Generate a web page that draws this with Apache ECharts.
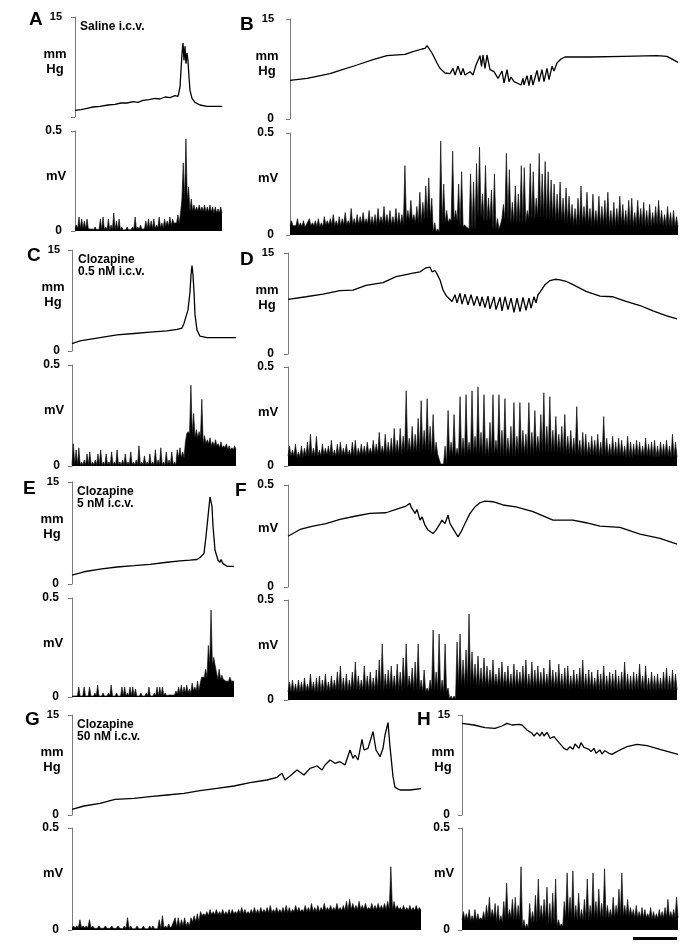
<!DOCTYPE html>
<html>
<head>
<meta charset="utf-8">
<script src="https://cdn.jsdelivr.net/npm/echarts@6/dist/echarts.min.js"></script>
<style>html,body{margin:0;padding:0;background:#fff;}#c{width:685px;height:950px;}</style>
</head>
<body>
<div id="c"></div>
<script>
// ---------- DATA (time in s, pressure in mmHg, EMG in mV) ----------
const pressA = [[0,1.0],[6,1.1],[12,1.3],[18,1.5],[25,1.6],[33,1.8],[40,1.9],[46,2.1],[52,2.1],[58,2.3],[63,2.2],[68,2.5],[74,2.6],[80,2.8],[85,2.7],[90,3.0],[95,2.9],[100,3.2],[103,3.1],[105,4.5],[106,7.0],[107,9.5],[108,11.1],[109,8.5],[110,10.6],[111,8.0],[112,9.6],[113,8.4],[114,6.0],[115,4.0],[117,2.8],[120,2.2],[125,1.8],[132,1.6],[147,1.6]];
const pressB = [[0,5.8],[17,6.1],[40,6.8],[50,7.3],[67,8.1],[83,8.9],[97,9.5],[115,9.7],[123,10.1],[132,10.5],[135,10.6],[137,11.0],[139,10.8],[142,9.9],[147,8.4],[150,7.6],[155,6.9],[160,6.8],[163,7.6],[165,6.6],[168,7.9],[171,6.6],[173,7.6],[175,6.6],[180,7.1],[183,6.6],[186,8.1],[188,7.9],[190,9.5],[191.5,7.9],[193,9.6],[195,7.6],[197,9.6],[200,7.4],[204,7.1],[208,6.1],[212,7.2],[214,5.4],[217,7.4],[219,5.6],[221,6.3],[224,5.6],[227,5.4],[231,5.1],[233,6.1],[234,5.1],[237,6.5],[239,5.0],[241,6.6],[243,5.1],[247,7.3],[249,5.6],[252,7.4],[254,5.6],[257,7.6],[259,5.9],[262,7.9],[264,7.2],[267,8.4],[271,9.0],[275,9.3],[300,9.3],[333,9.4],[367,9.5],[377,9.4],[383,8.9],[388,8.5]];
const pressC = [[0,1.1],[8,1.5],[28,2.0],[45,2.4],[62,2.6],[78,2.8],[95,3.0],[105,3.2],[110,3.4],[112,4.1],[114,4.3],[116,6.1],[118,8.8],[119,11.3],[120,12.7],[121,11.3],[122,8.8],[123,5.4],[125,3.1],[128,2.2],[135,2.0],[164,2.0]];
const pressD = [[0,8.1],[18,8.5],[35,8.9],[52,9.4],[65,9.5],[78,10.2],[95,10.6],[108,11.5],[118,11.8],[125,12.0],[132,12.2],[135,12.5],[138,12.8],[142,12.9],[144,12.2],[147,12.4],[149,11.9],[152,11.0],[155,9.5],[158,8.7],[162,8.1],[164,7.8],[167,8.8],[169,7.6],[172,9.0],[174,7.4],[177,8.9],[180,7.3],[183,8.8],[186,7.2],[189,8.6],[192,7.1],[194,8.5],[197,6.9],[200,8.6],[202,6.7],[206,8.5],[208,6.6],[212,8.4],[214,6.4],[217,8.5],[220,6.6],[223,8.3],[226,6.2],[229,8.3],[232,6.3],[235,8.4],[238,6.5],[241,8.3],[243,6.8],[246,8.5],[248,7.6],[250,8.8],[252,9.2],[257,10.3],[262,10.9],[267,11.1],[272,11.0],[278,10.8],[285,10.3],[298,9.3],[312,8.6],[325,8.5],[338,7.8],[352,7.2],[365,6.4],[378,5.7],[389,5.2]];
const pressE = [[0,1.3],[12,1.8],[28,2.2],[45,2.5],[62,2.7],[78,2.9],[95,3.2],[108,3.4],[118,3.5],[125,3.6],[128,3.9],[132,4.5],[134,7.0],[136,9.9],[138,12.8],[140,11.4],[141,8.5],[143,5.0],[146,3.5],[148,3.2],[149,3.6],[151,3.0],[155,2.6],[162,2.6]];
const pressF = [[0,0.249],[12,0.282],[25,0.298],[38,0.311],[52,0.331],[68,0.348],[82,0.361],[98,0.364],[108,0.380],[118,0.397],[122,0.410],[123,0.393],[127,0.361],[129,0.380],[132,0.328],[134,0.344],[137,0.303],[140,0.279],[145,0.262],[148,0.279],[152,0.311],[154,0.328],[157,0.311],[160,0.352],[162,0.311],[167,0.270],[170,0.246],[173,0.270],[177,0.311],[182,0.361],[187,0.393],[192,0.413],[197,0.421],[205,0.418],[215,0.402],[228,0.393],[245,0.369],[265,0.328],[285,0.328],[298,0.315],[312,0.298],[332,0.292],[352,0.259],[372,0.238],[389,0.210]];
const pressG = [[0,0.85],[12,1.35],[28,1.75],[43,2.35],[45,2.25],[62,2.5],[78,2.75],[95,3.0],[112,3.25],[128,3.65],[145,4.0],[162,4.35],[178,4.85],[195,5.25],[205,5.65],[210,6.25],[213,5.25],[218,5.85],[225,6.75],[232,6.0],[238,7.0],[245,7.35],[250,6.75],[253,7.5],[258,8.25],[263,7.75],[268,8.0],[273,7.5],[278,9.75],[281,8.5],[283,9.0],[286,8.25],[290,11.35],[292,9.75],[296,10.0],[301,12.5],[304,9.75],[308,8.75],[311,10.0],[313,12.0],[316,13.85],[318,10.25],[321,5.75],[323,4.15],[328,3.75],[338,3.75],[349,3.95]];
const pressH = [[0,13.75],[12,13.5],[23,13.1],[33,13.0],[40,13.35],[45,13.75],[50,13.5],[57,13.6],[60,13.5],[65,12.75],[70,12.25],[72,11.85],[75,12.35],[78,11.85],[80,12.45],[82,11.85],[85,12.4],[88,11.5],[92,11.75],[97,10.85],[102,10.0],[105,9.75],[108,10.25],[111,9.85],[113,10.65],[117,10.0],[119,10.85],[122,10.15],[127,9.85],[129,9.5],[132,10.0],[134,9.25],[138,9.75],[140,9.15],[143,9.65],[147,9.25],[150,9.1],[153,9.35],[158,9.75],[165,10.25],[175,10.6],[185,10.4],[198,9.85],[216,9.1]];

// EMG: background activity level per equal time segment, and spike peaks at equal spacing
const emgBaseA = [0.012,0.01,0.008,0.006,0.005,0.005,0.006,0.008,0.01,0.012,0.015,0.025,0.04,0.16,0.10,0.10,0.095,0.09];
const emgSpikeA = [0.03,0.07,0.06,0.05,0.06,0.02,0.01,0.02,0.01,0.06,0.07,0.02,0.06,0.03,0.09,0.05,0.06,0.02,0.01,0.02,0.01,0.02,0.07,0.02,0.03,0.02,0.05,0.06,0.05,0.06,0.03,0.07,0.04,0.06,0.05,0.07,0.06,0.05,0.08,0.09,0.34,0.46,0.22,0.16,0.13,0.12,0.13,0.12,0.13,0.12,0.13,0.12,0.12,0.11,0.12];
const emgBaseB = [0.045,0.04,0.045,0.04,0.05,0.045,0.05,0.05,0.055,0.05,0.055,0.05,0.05,0.07,0.06,0.08,0.015,0.06,0.07,0.04,0.03,0.09,0.07,0.03,0.08,0.06,0.06,0.08,0.09,0.08,0.07,0.06,0.05,0.055,0.05,0.05,0.045,0.05,0.045,0.05,0.045,0.05,0.045,0.04];
const emgSpikeB = [0.07,0.05,0.08,0.06,0.07,0.05,0.08,0.06,0.07,0.08,0.06,0.09,0.07,0.08,0.10,0.07,0.09,0.08,0.11,0.07,0.13,0.08,0.10,0.09,0.11,0.08,0.12,0.09,0.10,0.13,0.09,0.14,0.10,0.12,0.09,0.13,0.11,0.10,0.34,0.12,0.17,0.10,0.14,0.21,0.16,0.24,0.28,0.18,0.06,0.03,0.46,0.25,0.12,0.08,0.41,0.12,0.25,0.31,0.05,0.02,0.30,0.26,0.35,0.43,0.20,0.34,0.18,0.22,0.30,0.08,0.05,0.15,0.40,0.32,0.16,0.24,0.20,0.34,0.33,0.12,0.35,0.31,0.18,0.40,0.30,0.36,0.31,0.27,0.25,0.20,0.26,0.18,0.23,0.19,0.15,0.13,0.18,0.24,0.14,0.21,0.13,0.20,0.12,0.19,0.14,0.17,0.21,0.12,0.16,0.13,0.19,0.15,0.12,0.17,0.18,0.11,0.17,0.13,0.16,0.12,0.15,0.11,0.14,0.17,0.12,0.10,0.14,0.11,0.12,0.09];
const emgBaseC = [0.005,0.005,0.005,0.005,0.005,0.005,0.005,0.005,0.005,0.005,0.005,0.005,0.005,0.04,0.16,0.14,0.11,0.10,0.09,0.08];
const emgSpikeC = [0.11,0.08,0.09,0.02,0.03,0.06,0.07,0.02,0.03,0.06,0.08,0.02,0.06,0.02,0.07,0.02,0.08,0.02,0.03,0.06,0.02,0.07,0.02,0.03,0.10,0.02,0.05,0.02,0.06,0.02,0.08,0.03,0.09,0.02,0.07,0.03,0.07,0.02,0.08,0.09,0.07,0.12,0.17,0.40,0.26,0.18,0.17,0.33,0.15,0.13,0.14,0.12,0.13,0.11,0.12,0.10,0.11,0.10,0.09,0.10];
const emgBaseD = [0.05,0.045,0.05,0.05,0.055,0.05,0.055,0.05,0.055,0.06,0.06,0.055,0.06,0.07,0.07,0.08,0.06,0.01,0.05,0.05,0.06,0.06,0.05,0.06,0.05,0.05,0.06,0.06,0.07,0.07,0.07,0.06,0.06,0.05,0.055,0.05,0.05,0.05,0.045,0.05,0.05,0.045,0.05,0.045];
const emgSpikeD = [0.10,0.08,0.11,0.07,0.10,0.09,0.12,0.16,0.09,0.15,0.08,0.11,0.09,0.10,0.13,0.08,0.11,0.12,0.09,0.11,0.08,0.12,0.13,0.09,0.11,0.10,0.12,0.09,0.13,0.11,0.17,0.10,0.16,0.12,0.14,0.19,0.13,0.19,0.15,0.38,0.14,0.20,0.16,0.24,0.33,0.18,0.34,0.20,0.26,0.12,0.03,0.02,0.10,0.28,0.12,0.26,0.09,0.35,0.14,0.36,0.12,0.38,0.15,0.40,0.17,0.36,0.14,0.22,0.36,0.13,0.36,0.18,0.34,0.14,0.20,0.32,0.15,0.32,0.18,0.16,0.32,0.17,0.28,0.15,0.26,0.37,0.20,0.35,0.18,0.25,0.16,0.20,0.26,0.15,0.18,0.14,0.30,0.13,0.17,0.16,0.12,0.15,0.13,0.16,0.12,0.25,0.14,0.11,0.15,0.12,0.14,0.13,0.10,0.15,0.12,0.11,0.13,0.12,0.10,0.14,0.11,0.12,0.13,0.10,0.12,0.11,0.13,0.10,0.16,0.12];
const emgBaseE = [0.005,0.005,0.005,0.005,0.005,0.005,0.005,0.005,0.005,0.005,0.005,0.008,0.01,0.015,0.02,0.03,0.10,0.16,0.09,0.08];
const emgSpikeE = [0.01,0.01,0.05,0.01,0.05,0.01,0.05,0.01,0.02,0.06,0.01,0.02,0.01,0.02,0.06,0.01,0.02,0.01,0.05,0.05,0.02,0.05,0.05,0.04,0.01,0.02,0.01,0.02,0.05,0.01,0.02,0.05,0.05,0.05,0.02,0.01,0.02,0.01,0.03,0.05,0.06,0.05,0.06,0.04,0.07,0.05,0.08,0.07,0.10,0.14,0.26,0.44,0.20,0.13,0.14,0.11,0.10,0.09,0.10,0.09];
const emgBaseF = [0.04,0.04,0.045,0.04,0.045,0.05,0.045,0.05,0.05,0.05,0.05,0.055,0.05,0.06,0.05,0.04,0.05,0.04,0.005,0.07,0.08,0.07,0.065,0.07,0.065,0.06,0.065,0.06,0.06,0.065,0.06,0.055,0.06,0.055,0.055,0.05,0.055,0.05,0.05,0.055,0.05,0.05,0.05,0.05];
const emgSpikeF = [0.09,0.10,0.08,0.10,0.09,0.11,0.08,0.13,0.09,0.11,0.12,0.10,0.13,0.09,0.12,0.10,0.14,0.17,0.11,0.13,0.10,0.14,0.19,0.12,0.10,0.17,0.12,0.14,0.11,0.15,0.20,0.28,0.13,0.15,0.17,0.12,0.18,0.14,0.21,0.28,0.12,0.16,0.19,0.28,0.10,0.15,0.06,0.10,0.35,0.14,0.33,0.10,0.28,0.06,0.02,0.02,0.29,0.33,0.20,0.25,0.43,0.24,0.18,0.22,0.16,0.21,0.17,0.15,0.20,0.13,0.16,0.19,0.14,0.17,0.13,0.18,0.15,0.14,0.17,0.20,0.13,0.19,0.15,0.17,0.14,0.16,0.13,0.20,0.15,0.14,0.18,0.13,0.16,0.17,0.12,0.15,0.13,0.16,0.20,0.13,0.15,0.14,0.11,0.15,0.13,0.17,0.12,0.14,0.13,0.15,0.12,0.14,0.19,0.13,0.12,0.14,0.13,0.18,0.12,0.17,0.11,0.14,0.12,0.13,0.11,0.14,0.16,0.12,0.15,0.13];
const emgBaseG = [0.01,0.01,0.008,0.008,0.008,0.006,0.006,0.006,0.006,0.01,0.015,0.02,0.04,0.07,0.075,0.075,0.08,0.08,0.08,0.085,0.085,0.085,0.09,0.09,0.09,0.095,0.095,0.095,0.10,0.10,0.10,0.10,0.10,0.095,0.095];
const emgSpikeG = [0.02,0.02,0.05,0.02,0.02,0.05,0.02,0.01,0.02,0.01,0.02,0.01,0.02,0.01,0.02,0.01,0.02,0.06,0.02,0.01,0.02,0.01,0.02,0.01,0.02,0.02,0.01,0.05,0.07,0.02,0.03,0.02,0.06,0.06,0.05,0.06,0.04,0.06,0.07,0.08,0.09,0.08,0.09,0.10,0.09,0.10,0.09,0.10,0.09,0.10,0.10,0.09,0.10,0.11,0.10,0.09,0.10,0.11,0.10,0.11,0.10,0.11,0.12,0.10,0.11,0.10,0.11,0.12,0.11,0.10,0.12,0.11,0.10,0.12,0.11,0.13,0.11,0.12,0.11,0.13,0.11,0.12,0.11,0.13,0.11,0.12,0.14,0.15,0.13,0.12,0.14,0.12,0.13,0.11,0.13,0.12,0.13,0.12,0.13,0.14,0.31,0.14,0.12,0.11,0.12,0.11,0.12,0.11,0.12,0.11];
const emgBaseH = [0.05,0.045,0.05,0.06,0.04,0.06,0.05,0.01,0.04,0.05,0.03,0.02,0.06,0.05,0.05,0.06,0.06,0.06,0.07,0.07,0.06,0.06,0.055,0.06,0.06];
const emgSpikeH = [0.09,0.08,0.10,0.07,0.10,0.08,0.06,0.09,0.12,0.16,0.10,0.13,0.12,0.07,0.14,0.23,0.10,0.15,0.16,0.12,0.31,0.05,0.03,0.13,0.09,0.17,0.25,0.12,0.15,0.21,0.13,0.18,0.25,0.05,0.03,0.14,0.28,0.16,0.29,0.12,0.18,0.10,0.15,0.25,0.12,0.28,0.14,0.20,0.13,0.30,0.12,0.10,0.16,0.12,0.20,0.28,0.12,0.15,0.11,0.10,0.12,0.09,0.11,0.10,0.08,0.11,0.09,0.08,0.10,0.09,0.11,0.15,0.09,0.10,0.16];

const conditions = { A: ['Saline i.c.v.'], C: ['Clozapine', '0.5 nM i.c.v.'], E: ['Clozapine', '5 nM i.c.v.'], G: ['Clozapine', '50 nM i.c.v.'] };

// ---------- LAYOUT ----------
const panels = [
  {id:'A', left:70,  pTop:17,  pBot:117, eTop:131, eBot:231, off:5, press:pressA, base:emgBaseA, spk:emgSpikeA, pMax:15, pUnit:['mm','Hg'], zero:false, lx:29,  ly:20},
  {id:'B', left:282, pTop:19,  pBot:119, eTop:133, eBot:235, off:8, press:pressB, base:emgBaseB, spk:emgSpikeB, pMax:15, pUnit:['mm','Hg'], zero:true,  lx:240, ly:25},
  {id:'C', left:68,  pTop:250, pBot:351, eTop:365, eBot:466, off:4, press:pressC, base:emgBaseC, spk:emgSpikeC, pMax:15, pUnit:['mm','Hg'], zero:true,  lx:27,  ly:256},
  {id:'D', left:282, pTop:253, pBot:354, eTop:367, eBot:466, off:6, press:pressD, base:emgBaseD, spk:emgSpikeD, pMax:15, pUnit:['mm','Hg'], zero:true,  lx:240, ly:260},
  {id:'E', left:67,  pTop:482, pBot:584, eTop:598, eBot:697, off:5, press:pressE, base:emgBaseE, spk:emgSpikeE, pMax:15, pUnit:['mm','Hg'], zero:true,  lx:23,  ly:489},
  {id:'F', left:282, pTop:485, pBot:587, eTop:600, eBot:700, off:6, press:pressF, base:emgBaseF, spk:emgSpikeF, pMax:0.5, pUnit:['mV'],    zero:true,  lx:235, ly:491},
  {id:'G', left:67,  pTop:715, pBot:815, eTop:828, eBot:930, off:5, press:pressG, base:emgBaseG, spk:emgSpikeG, pMax:15, pUnit:['mm','Hg'], zero:true,  lx:25,  ly:720},
  {id:'H', left:458, pTop:715, pBot:815, eTop:828, eBot:930, off:4, press:pressH, base:emgBaseH, spk:emgSpikeH, pMax:15, pUnit:['mm','Hg'], zero:true,  lx:417, ly:720}
];

function emgPoints(base, spikes, dur) {
  const dt = dur / spikes.length, pts = [];
  for (let i = 0; i < spikes.length; i++) {
    const b = base[Math.floor(i * base.length / spikes.length)];
    pts.push([i * dt, b]);
    pts.push([(i + 0.5) * dt, Math.max(b, spikes[i])]);
  }
  pts.push([dur, base[base.length - 1]]);
  return pts;
}

const FONT = 'Arial, "Liberation Sans", sans-serif';
const rich = {
  s: {fontSize: 11, fontWeight: 'bold', fontFamily: FONT, color: '#000'},
  n: {fontSize: 12, fontWeight: 'bold', fontFamily: FONT, color: '#000'}
};
function yAxis(gi, max, showZero) {
  return {
    gridIndex: gi, type: 'value', min: 0, max: max, interval: max,
    axisLine: {show: true, lineStyle: {color: '#7a7a7a', width: 1}},
    axisTick: {show: true, length: 4, lineStyle: {color: '#7a7a7a', width: 1}},
    splitLine: {show: false},
    axisLabel: {
      margin: 8,
      formatter: function (v) {
        if (v === 0) return showZero ? '{n|0}' : '';
        return v === 15 ? '{s|15}' : '{n|0.5}';
      },
      rich: rich
    }
  };
}

const grid = [], xAxis = [], yAxes = [], series = [], graphic = [];
panels.forEach(function (p, k) {
  const dur = p.press[p.press.length - 1][0];
  const w = dur + p.off;
  const gp = 2 * k, ge = 2 * k + 1;
  grid.push({left: p.left, top: p.pTop, width: w, height: p.pBot - p.pTop});
  grid.push({left: p.left, top: p.eTop, width: w, height: p.eBot - p.eTop});
  [gp, ge].forEach(function (g) {
    xAxis.push({gridIndex: g, type: 'value', min: -p.off, max: dur, show: false});
  });
  yAxes.push(yAxis(gp, p.pMax, p.zero));
  yAxes.push(yAxis(ge, 0.5, true));
  series.push({type: 'line', xAxisIndex: gp, yAxisIndex: gp, data: p.press, showSymbol: false, symbol: 'none',
    lineStyle: {color: '#000', width: 1.3}, silent: true});
  series.push({type: 'line', xAxisIndex: ge, yAxisIndex: ge, data: emgPoints(p.base, p.spk, dur), showSymbol: false, symbol: 'none',
    lineStyle: {color: '#111', width: 0.7}, areaStyle: {color: '#000', opacity: 1}, silent: true});

  // panel letter
  graphic.push({type: 'text', x: p.lx, y: p.ly, style: {text: p.id, font: 'bold 19px ' + FONT, fill: '#000', align: 'left', verticalAlign: 'middle'}});
  // unit labels
  const cx = p.left - 15;
  if (p.pUnit.length === 2) {
    graphic.push({type: 'text', x: cx, y: p.pTop + 37, style: {text: p.pUnit[0], font: 'bold 13px ' + FONT, fill: '#000', align: 'center', verticalAlign: 'middle'}});
    graphic.push({type: 'text', x: cx, y: p.pTop + 52, style: {text: p.pUnit[1], font: 'bold 13px ' + FONT, fill: '#000', align: 'center', verticalAlign: 'middle'}});
  } else {
    graphic.push({type: 'text', x: cx + 1, y: p.pTop + 43, style: {text: p.pUnit[0], font: 'bold 13px ' + FONT, fill: '#000', align: 'center', verticalAlign: 'middle'}});
  }
  graphic.push({type: 'text', x: cx + 1, y: p.eTop + 45, style: {text: 'mV', font: 'bold 13px ' + FONT, fill: '#000', align: 'center', verticalAlign: 'middle'}});
  // condition text
  if (conditions[p.id]) {
    conditions[p.id].forEach(function (line, j) {
      graphic.push({type: 'text', x: p.left + 10, y: p.pTop + 10 + j * 11.5, style: {text: line, font: 'bold 12px ' + FONT, fill: '#000', align: 'left', verticalAlign: 'middle'}});
    });
  }
});
// time scale bar under H
graphic.push({type: 'rect', shape: {x: 633, y: 937, width: 44, height: 3}, style: {fill: '#000'}});

const chart = echarts.init(document.getElementById('c'), null, {renderer: 'canvas'});
chart.setOption({
  animation: false,
  backgroundColor: '#fff',
  grid: grid, xAxis: xAxis, yAxis: yAxes, series: series, graphic: graphic
});
</script>
</body>
</html>
